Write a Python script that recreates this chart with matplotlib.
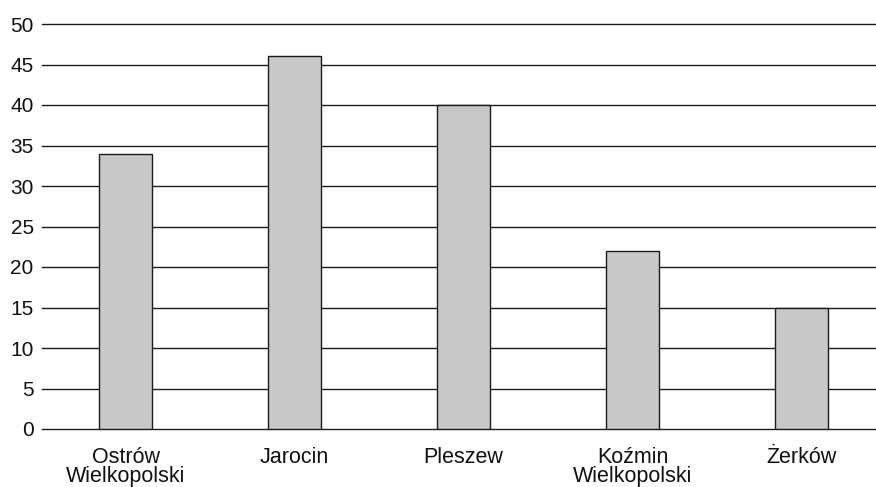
import matplotlib
matplotlib.use("Agg")
import matplotlib.pyplot as plt

categories = ["Ostrów\nWielkopolski", "Jarocin", "Pleszew", "Koźmin\nWielkopolski", "Żerków"]
values = [34, 46, 40, 22, 15]
yticks = [0, 5, 10, 15, 20, 25, 30, 35, 40, 45, 50]

plt.rcParams['font.family'] = ['Liberation Sans', 'DejaVu Sans']

W, H = 876, 487
fig = plt.figure(figsize=(W/100, H/100), dpi=100)
ax = fig.add_axes([42/W, (H-429)/H, (876-42)/W, (429-24)/H])

x = list(range(len(categories)))
ax.bar(x, values, width=0.314, color="#c8c8c8", edgecolor="#1a1a1a", linewidth=1.0, zorder=3)

ax.set_ylim(0, 50)
ax.set_xlim(-0.494, 4.44)
ax.set_yticks(yticks)
ax.set_yticklabels([str(t) for t in yticks])
ax.set_xticks(x)
ax.set_xticklabels(categories, linespacing=0.88)
ax.yaxis.grid(True, color="#1a1a1a", linewidth=1.0, zorder=0)
for gl in ax.get_ygridlines():
    gl.set_clip_on(False)
ax.set_axisbelow(True)
for s in ax.spines.values():
    s.set_visible(False)
ax.tick_params(axis='y', length=0, labelsize=15, colors="#111111", pad=6)
ax.tick_params(axis='x', length=0, labelsize=15.5, colors="#111111", pad=13)

fig.savefig("out.png", dpi=100)
